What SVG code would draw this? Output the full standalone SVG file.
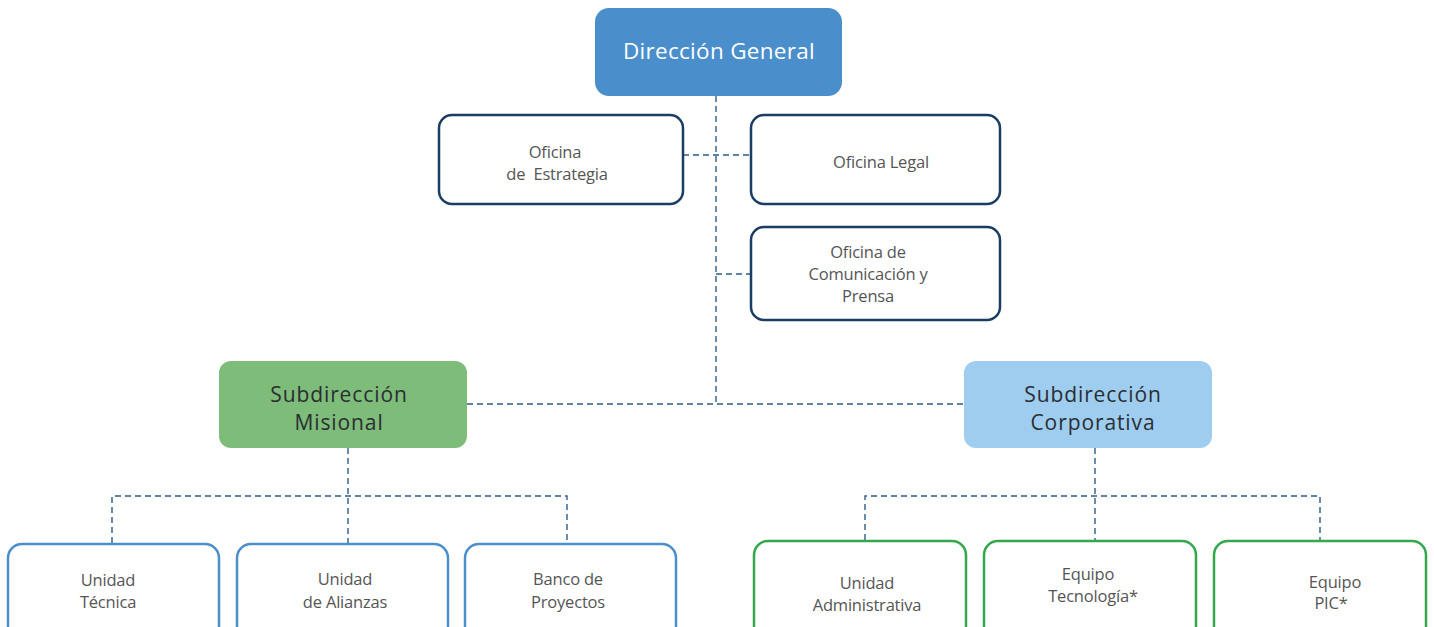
<svg xmlns="http://www.w3.org/2000/svg" width="1434" height="627" viewBox="0 0 1434 627">
<style>
.edge{fill:none;stroke:#2e5c86;stroke-width:1.4;stroke-dasharray:6 4}
.top{fill:#4a8fcb}
.off{fill:#fff;stroke:#1b3d63;stroke-width:2.5}
.mis{fill:#7dbc79}
.cor{fill:#9ecdef}
.ub{fill:#fff;stroke:#4b8fcb;stroke-width:2.5}
.ug{fill:#fff;stroke:#33a84c;stroke-width:2.5}
text{font-family:"Open Sans","Liberation Sans",sans-serif;text-anchor:middle;white-space:pre}
.t1{fill:#fff;font-size:22.5px;letter-spacing:0.3px}
.t2{fill:#2b2d33;font-size:21px;letter-spacing:0.9px}
.t3{fill:#555;font-size:16.5px;letter-spacing:-0.2px}
</style>
<rect width="1434" height="627" fill="#fff"/>
<g id="connectors">
<path class="edge" d="M716 96V403"/>
<path class="edge" d="M683 155H751"/>
<path class="edge" d="M716 274H751"/>
<path class="edge" d="M467 404H964"/>
<path class="edge" d="M348 448V543M112 543V496H567V543"/>
<path class="edge" d="M1095 448V540M865 540V496H1320V540"/>
</g>
<g id="direccion-general">
<rect class="top" x="595" y="8" width="247" height="88" rx="14"/>
<text class="t1" x="719" y="59">Dirección General</text>
</g>
<g id="oficina-estrategia">
<rect class="off" x="439" y="115" width="244" height="89" rx="13"/>
<text class="t3" x="555" y="158">Oficina</text>
<text class="t3" x="557" y="180" xml:space="preserve">de  Estrategia</text>
</g>
<g id="oficina-legal">
<rect class="off" x="751" y="115" width="249" height="89" rx="13"/>
<text class="t3" x="881" y="168">Oficina Legal</text>
</g>
<g id="oficina-comunicacion">
<rect class="off" x="751" y="227" width="249" height="93" rx="13"/>
<text class="t3" x="868" y="258">Oficina de</text>
<text class="t3" x="868" y="280">Comunicación y</text>
<text class="t3" x="868" y="302">Prensa</text>
</g>
<g id="subdireccion-misional">
<rect class="mis" x="219" y="361" width="248" height="87" rx="12"/>
<text class="t2" x="339" y="402">Subdirección</text>
<text class="t2" x="339" y="430">Misional</text>
</g>
<g id="subdireccion-corporativa">
<rect class="cor" x="964" y="361" width="248" height="87" rx="12"/>
<text class="t2" x="1093" y="402">Subdirección</text>
<text class="t2" x="1093" y="430">Corporativa</text>
</g>
<g id="unidad-tecnica">
<rect class="ub" x="8" y="544" width="211" height="100" rx="14"/>
<text class="t3" x="108" y="586">Unidad</text>
<text class="t3" x="108" y="608">Técnica</text>
</g>
<g id="unidad-alianzas">
<rect class="ub" x="237" y="544" width="211" height="100" rx="14"/>
<text class="t3" x="345" y="585">Unidad</text>
<text class="t3" x="345" y="608">de Alianzas</text>
</g>
<g id="banco-proyectos">
<rect class="ub" x="465" y="544" width="211" height="100" rx="14"/>
<text class="t3" x="568" y="585">Banco de</text>
<text class="t3" x="568" y="608">Proyectos</text>
</g>
<g id="unidad-administrativa">
<rect class="ug" x="754" y="541" width="212" height="103" rx="14"/>
<text class="t3" x="867" y="589">Unidad</text>
<text class="t3" x="867" y="611">Administrativa</text>
</g>
<g id="equipo-tecnologia">
<rect class="ug" x="984" y="541" width="212" height="103" rx="14"/>
<text class="t3" x="1088" y="580">Equipo</text>
<text class="t3" x="1093" y="602">Tecnología*</text>
</g>
<g id="equipo-pic">
<rect class="ug" x="1214" y="541" width="212" height="103" rx="14"/>
<text class="t3" x="1335" y="588">Equipo</text>
<text class="t3" x="1331" y="609">PIC*</text>
</g>
</svg>
